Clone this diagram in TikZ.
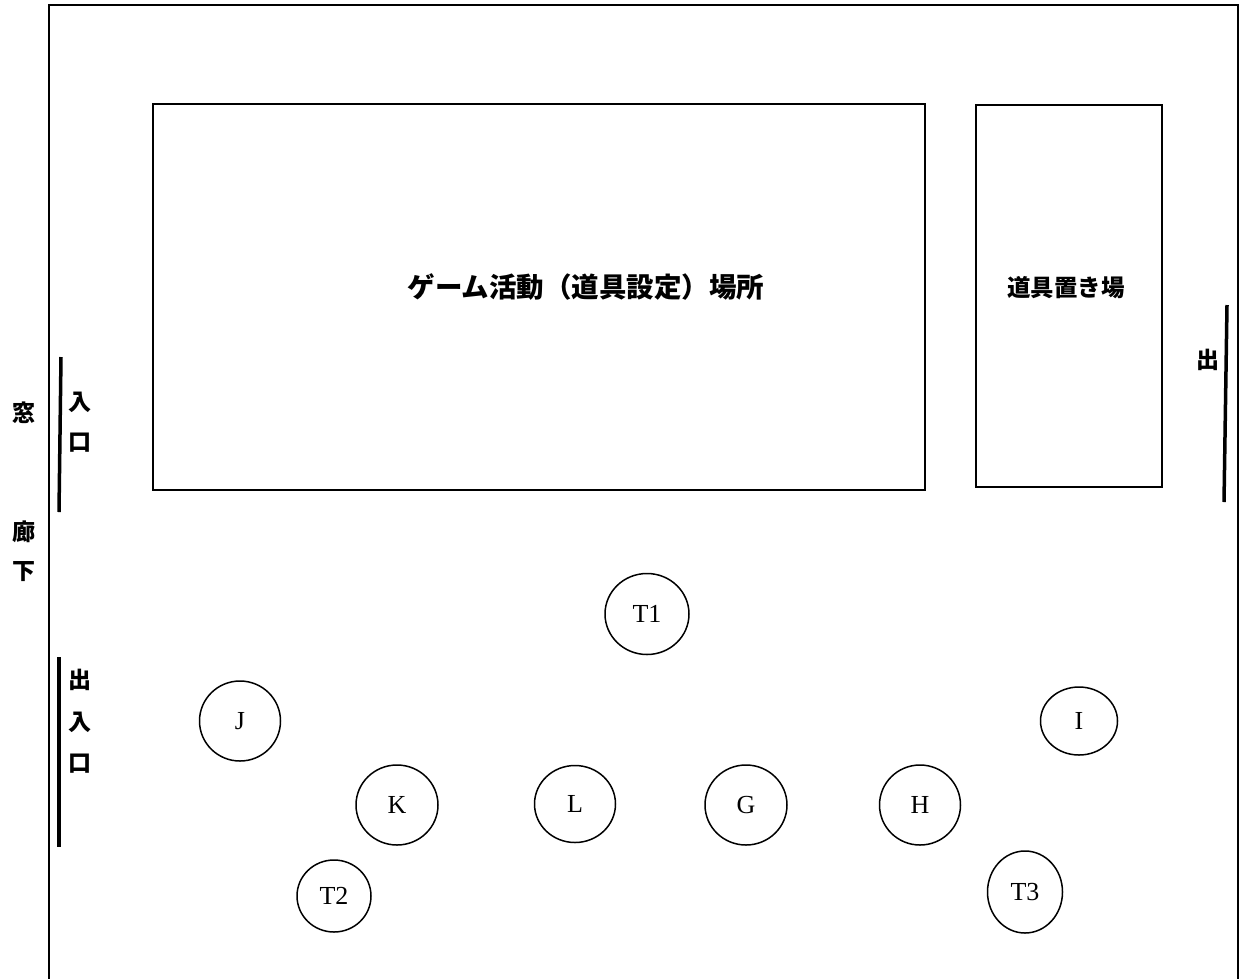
\documentclass[tikz,border=0pt]{standalone}
\usepackage{fontspec}
\usetikzlibrary{shapes.geometric}
\setmainfont{Liberation Serif}
\newfontfamily\cjk{Noto Sans CJK JP}
\begin{document}
\begin{tikzpicture}[x=1pt,y=-1pt,
  wall/.style={line width=1.6pt},
  door/.style={line width=3.5pt},
  seat/.style={draw,ellipse,line width=1.5pt,inner sep=0pt,font=\fontsize{26}{30}\selectfont},
  jp/.style={font=\cjk\bfseries\fontsize{#1}{#1}\selectfont,inner sep=0pt}
]
\useasboundingbox (0,0) rectangle (1242,978);
% room walls
\coordinate (wbl) at (49,990);
\coordinate (wtl) at (49,5);
\coordinate (wtr) at (1238,5);
\coordinate (wbr) at (1238,990);
\draw[wall] (wbl) -- (wtl) -- (wtr) -- (wbr);
% areas
\draw[line width=1.6pt] (153,104) rectangle (925,490);
\draw[line width=1.6pt] (976,105) rectangle (1162,487);
\node[jp=27.5] (game) at (586,287) {ゲーム活動（道具設定）場所};
\node[jp=23.5] (tool) at (1066,288) {道具置き場};
% doors
\coordinate (d1a) at (61,357);
\coordinate (d1b) at (59,512);
\draw[door] (d1a) -- (d1b);
\coordinate (d2a) at (59,657);
\coordinate (d2b) at (59,847);
\draw[door] (d2a) -- (d2b);
\coordinate (d3a) at (1227,305);
\coordinate (d3b) at (1224,502);
\draw[door] (d3a) -- (d3b);
% side labels
\node[jp=23] (mado) at (24,413) {窓};
\node[jp=23] (rou) at (24,532) {廊};
\node[jp=23] (ka) at (24,572) {下};
\node[jp=23] (i1) at (80,402) {入};
\node[jp=23] (k1) at (80,443) {口};
\node[jp=23] (d2) at (80,680) {出};
\node[jp=23] (i2) at (80,722) {入};
\node[jp=23] (k2) at (80,764) {口};
\node[jp=23] (d3) at (1208,360) {出};
% seats
\node[seat,minimum width=84pt,minimum height=81pt] (T1) at (647,614) {T1};
\node[seat,minimum width=81pt,minimum height=80pt] (J) at (240,721) {J};
\node[seat,minimum width=82pt,minimum height=80pt] (K) at (397,805) {K};
\node[seat,minimum width=81pt,minimum height=77pt] (L) at (575,804) {L};
\node[seat,minimum width=82pt,minimum height=80pt] (G) at (746,805) {G};
\node[seat,minimum width=81pt,minimum height=80pt] (H) at (920,805) {H};
\node[seat,minimum width=77pt,minimum height=68pt] (I) at (1079,721) {I};
\node[seat,minimum width=74pt,minimum height=72pt] (T2) at (334,896) {T2};
\node[seat,minimum width=75pt,minimum height=82pt] (T3) at (1025,892) {T3};
\end{tikzpicture}
\end{document}
